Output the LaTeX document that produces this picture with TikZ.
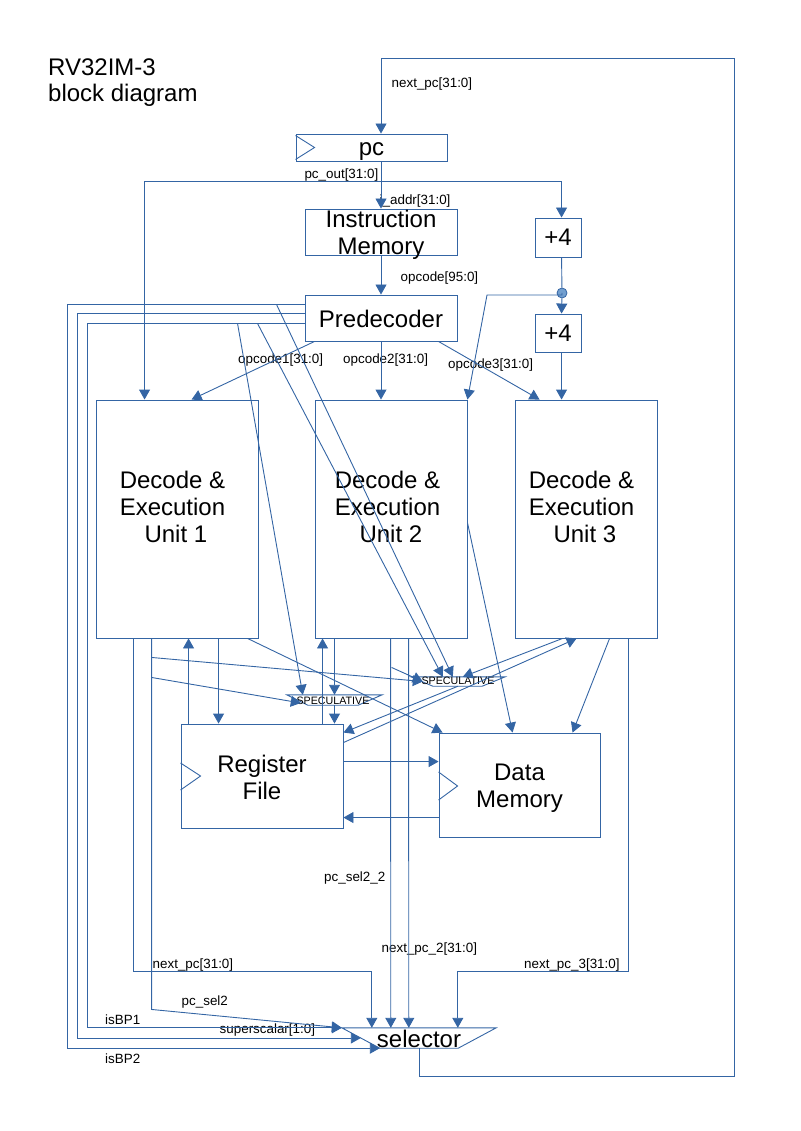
\documentclass[tikz,border=0pt]{standalone}
\usepackage{fontspec}
\setmainfont{Liberation Sans}
\usetikzlibrary{arrows.meta,calc}
\definecolor{wire}{HTML}{3465A4}
\definecolor{dotfill}{HTML}{729FCF}
\begin{document}
\begin{tikzpicture}[x=1pt,y=-1pt,
  ln/.style={draw=wire,line width=0.9pt},
  arr/.style={ln,-{Triangle[length=10pt,width=11pt]}},
  box/.style={ln,rectangle,inner sep=0pt},
  hidden/.style={rectangle,inner sep=0pt},
  big/.style={font=\fontsize{24}{27}\selectfont,align=center,inner sep=0pt,text=black},
  lab/.style={font=\fontsize{13.4}{15}\selectfont,inner sep=0pt,anchor=west,text=black},
  spectext/.style={font=\fontsize{10.7}{12}\selectfont,inner sep=0pt,text=black},
]
\useasboundingbox (0,0) rectangle (800,1131);

% ---------- title ----------
\node[anchor=west,align=left,inner sep=0pt,font=\fontsize{24}{26}\selectfont] (title) at (48,83) {RV32IM-3\\block diagram};

% ---------- blocks ----------
\node[box,minimum width=151pt,minimum height=27pt] (pc) at (371.5,147.5) {};
\node[big] (pct) at (371.5,151.5) {pc};
\draw[ln] ($(pc.north west)+(0,2)$) -- ($(pc.west)+(19,0)$) -- ($(pc.south west)+(0,-2)$);

\node[box,minimum width=152pt,minimum height=46pt] (im) at (381,232) {};
\node[big] (imt) at (381,235) {Instruction\\Memory};

\node[box,minimum width=152pt,minimum height=46pt] (pre) at (381,318) {};
\node[big] (pret) at (381,319) {Predecoder};

\node[box,minimum width=46pt,minimum height=39pt] (p4a) at (558,237.5) {};
\node[big] (p4at) at (p4a.center) {+4};
\node[box,minimum width=46pt,minimum height=38pt] (p4b) at (558,333) {};
\node[big] (p4bt) at (p4b.center) {+4};
\node[circle,draw=wire,fill=dotfill,line width=0.8pt,inner sep=0pt,minimum size=10pt] (dot) at (562,293) {};

\node[box,minimum width=162pt,minimum height=238pt] (u1) at (177,519) {};
\node[big] (u1t) at (172.5,506.5) {Decode \&\\Execution\\\hspace*{0.28em}Unit 1};
\node[box,minimum width=152pt,minimum height=238pt] (u2) at (391,519) {};
\node[big] (u2t) at (387.5,506.5) {Decode \&\\Execution\\\hspace*{0.28em}Unit 2};
\node[box,minimum width=142pt,minimum height=238pt] (u3) at (586,519) {};
\node[big] (u3t) at (581.5,506.5) {Decode \&\\Execution\\\hspace*{0.28em}Unit 3};

\node[box,minimum width=162pt,minimum height=104pt] (rf) at (262,776) {};
\node[big] (rft) at (262,777) {Register\\File};
\draw[ln] ($(rf.west)+(0,-13)$) -- ($(rf.west)+(20,0)$) -- ($(rf.west)+(0,14)$);

\node[box,minimum width=161pt,minimum height=104pt] (dm) at (519.5,785) {};
\node[big] (dmt) at (519.5,788.5) {Data\\Memory};
\draw[ln] ($(dm.west)+(0,-13)$) -- ($(dm.west)+(19,1)$) -- ($(dm.west)+(0,15)$);

% speculative muxes
\node[hidden,minimum width=95pt,minimum height=10pt] (s1) at (334.5,700) {};
\draw[ln] (s1.north west) -- (s1.north east) -- ($(s1.south east)+(-24,0)$) -- ($(s1.south west)+(21,0)$) -- cycle;
\node[spectext] (s1t) at (333,700.5) {SPECULATIVE};
\node[hidden,minimum width=94pt,minimum height=9pt] (s2) at (458,681.5) {};
\draw[ln] (s2.north west) -- (s2.north east) -- ($(s2.south east)+(-23,0)$) -- ($(s2.south west)+(22,0)$) -- cycle;
\node[spectext] (s2t) at (458,681) {SPECULATIVE};

% selector
\node[hidden,minimum width=154pt,minimum height=20pt] (sel) at (419,1038) {};
\draw[ln] (sel.north west) -- (sel.north east) -- ($(sel.south east)+(-38,0)$) -- ($(sel.south west)+(38,0)$) -- cycle;
\node[big] (selt) at (419,1039) {selector};

% ---------- signal labels ----------
\node[lab] (l1) at (391.5,84) {next\_pc[31:0]};
\node[lab,anchor=east] (l2) at (378.5,175) {pc\_out[31:0]};
\node[lab] (l3) at (379.5,201.5) {i\_addr[31:0]};
\node[lab] (l4) at (400.5,278.5) {opcode[95:0]};
\node[lab] (l5) at (238,360) {opcode1[31:0]};
\node[lab] (l6) at (343,360) {opcode2[31:0]};
\node[lab] (l7) at (448,365) {opcode3[31:0]};
\node[lab] (l8) at (324,878) {pc\_sel2\_2};
\node[lab] (l9) at (381.5,949.5) {next\_pc\_2[31:0]};
\node[lab] (l10) at (152.5,965) {next\_pc[31:0]};
\node[lab] (l11) at (524,965) {next\_pc\_3[31:0]};
\node[lab] (l12) at (181.5,1002) {pc\_sel2};
\node[lab] (l13) at (105,1020) {isBP1};
\node[lab] (l14) at (219.5,1030) {superscalar[1:0]};
\node[lab] (l15) at (105,1059) {isBP2};

% ---------- fetch path ----------
\coordinate (pcj) at (381,181);
\coordinate (looptr) at (734,58);
\coordinate (bend) at (487,295);
\draw[arr] (sel.south) -- ++(0,28) -| (looptr) -| (pc.north -| im.north);
\draw[arr] (pc.south -| im.north) -- (im.north);
\draw[arr] (pcj) -| ([xshift=49pt]u1.north west);
\draw[arr] (pcj) -| ([xshift=27pt]p4a.north west);
\draw[arr] (im.south) -- (pre.north);
\draw[ln] ([xshift=27pt]p4a.south west) -- (dot);
\draw[arr] (dot) -- ([xshift=27pt]p4b.north west);
\draw[arr] ([xshift=27pt]p4b.south west) -- ([xshift=47pt]u3.north west);
\draw[arr] (dot.center) |- (bend) -- (u2.north east);

% ---------- predecoder outputs ----------
\draw[arr] ([xshift=10pt]pre.south west) -- ([xshift=96pt]u1.north west);
\draw[arr] (pre.south) -- (pre.south |- u2.north);
\draw[arr] ([xshift=-19pt]pre.south east) -- ([xshift=25pt]u3.north west);

\coordinate (xo) at (67,0);
\coordinate (xm) at (77,0);
\coordinate (xi) at (87,0);
\draw[arr] ($(pre.north west)+(0,10)$) -| (xo |- sel.south) -- ($(sel.south west)+(38,0)$);
\draw[arr] ($(pre.north west)+(0,19)$) -| (xm |- sel.west) -- ($(sel.west)+(19,0)$);
\draw[arr] ($(pre.north west)+(0,29)$) -| (xi |- sel.north west) -- (sel.north west);
\draw[arr] ($(pre.north west)+(-28,10)$) -- ($(s2.north west)+(42,0)$);
\draw[arr] ($(pre.north west)+(-47,29)$) -- ($(s2.north west)+(32,0)$);
\draw[arr] ($(pre.north west)+(-67,29)$) -- ($(s1.north west)+(16,0)$);

% ---------- unit 1 ----------
\draw[arr] ($(u1.south west)+(38,0)$) -- ++(0,333) -| ($(sel.north west)+(30,0)$);
\draw[arr] ($(u1.south west)+(56,0)$) -- ++(0,371) -- (sel.north west);
\draw[arr] ($(u1.south west)+(56,19)$) -- ($(s2.west)+(12,0)$);
\draw[arr] ($(u1.south west)+(56,39)$) -- ($(s1.west)+(14,3)$);
\draw[arr] ($(rf.north west)+(8,0)$) -- ($(u1.south west)+(93,0)$);
\draw[arr] ($(u1.south west)+(123,0)$) -- ($(rf.north west)+(38,0)$);
\draw[arr] ($(u1.south west)+(152,0)$) -- ($(dm.north west)+(4,0)$);

% ---------- unit 2 ----------
\draw[arr] ($(rf.north west)+(142,0)$) -- ($(u2.south west)+(8,0)$);
\draw[arr] (s1.north |- u2.south) -- (s1.north);
\draw[arr] (s1.south) -- (s1.south |- rf.north);
\draw[arr] ($(u2.south west)+(76,0)$) -- ($(sel.north west)+(49,0)$);
\draw[arr] ($(u2.south west)+(77,29)$) -- ($(s2.west)+(12,0)$);
\draw[arr] ($(u2.south west)+(94,0)$) -- ($(sel.north west)+(67,0)$);
\draw[arr] ($(u2.north east)+(0,123)$) -- ($(dm.north west)+(74,0)$);

% ---------- unit 3 ----------
\draw[arr] ($(u3.south west)+(48,0)$) -- ($(s2.north west)+(52,0)$);
\draw[arr] ($(rf.north east)+(0,19)$) -- ($(u3.south west)+(62,0)$);
\draw[arr] (s2.south) -- ($(rf.north east)+(0,9)$);
\draw[arr] ($(u3.south west)+(95,0)$) -- ($(dm.north west)+(134,0)$);
\draw[arr] ($(u3.south west)+(114,0)$) -- ++(0,333) -| ($(sel.north west)+(116,0)$);

% ---------- register file / data memory ----------
\draw[arr] ($(rf.north east)+(0,38)$) -- ($(dm.north west)+(0,29)$);
\draw[arr] ($(dm.north west)+(0,85)$) -- ($(rf.north east)+(0,94)$);
\end{tikzpicture}
\end{document}
